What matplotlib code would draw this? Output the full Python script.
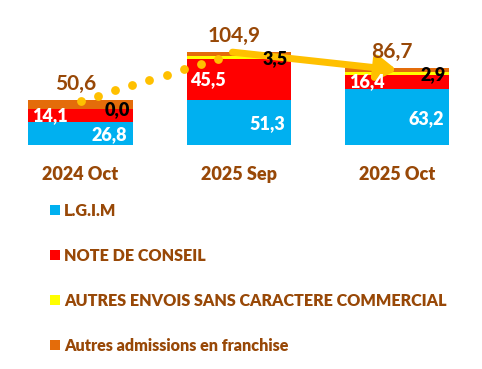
import numpy as np
import matplotlib.pyplot as plt
from matplotlib.patches import Patch

# données
categories = ['2024 Oct', '2025 Sep', '2025 Oct']
series_names = ['L.G.I.M', 'NOTE DE CONSEIL',
                'AUTRES ENVOIS SANS CARACTERE COMMERCIAL',
                'Autres admissions en franchise']
lgim = [26.8, 51.3, 63.2]
note = [14.1, 45.5, 16.4]
autres_envois = [0.0, 3.5, 2.9]
autres_adm = [9.7, 4.6, 4.2]
totals = [50.6, 104.9, 86.7]

colors = ['#00B0F0', '#FF0000', '#FFFF00', '#E46C0A']
brown = '#984807'
gold = '#FFC000'

plt.rcParams['font.family'] = ['Lato', 'DejaVu Sans']

fig = plt.figure(figsize=(4.82, 3.69), dpi=100)
ax = fig.add_axes([0, 0.6057, 1, 0.3015])

x = np.arange(len(categories))
w = 0.66
series = [lgim, note, autres_envois, autres_adm]
bottom = np.zeros(len(x))
bottoms = []
for vals, c in zip(series, colors):
    ax.bar(x, vals, w, bottom=bottom, color=c, zorder=2)
    bottoms.append(bottom.copy())
    bottom = bottom + np.array(vals)

def fmt(v):
    return f'{v:.1f}'.replace('.', ',')

for i in range(len(x)):
    # L.G.I.M : blanc, à droite
    ax.text(x[i] + w / 2 - 0.035, bottoms[0][i] + lgim[i] / 2 - 1, fmt(lgim[i]),
            ha='right', va='center', color='white', fontsize=13,
            fontweight='heavy', zorder=6)
    # note de conseil : blanc, à gauche
    ax.text(x[i] - w / 2 + 0.025, bottoms[1][i] + note[i] / 2, fmt(note[i]),
            ha='left', va='center', color='white', fontsize=13,
            fontweight='heavy', zorder=6)
    # autres envois : noir
    ax.text(x[i] + w / 2 - 0.02, bottoms[2][i] + autres_envois[i] / 2 - 1,
            fmt(autres_envois[i]), ha='right', va='center', color='black',
            fontsize=13, fontweight='heavy', zorder=6)
    # total
    ax.text(x[i] - 0.03, totals[i] + 18, fmt(totals[i]), ha='center',
            va='center', color=brown, fontsize=15, fontweight='bold',
            zorder=6)

# pointillés 2024 Oct -> 2025 Sep
t = np.linspace(0, 0.87, 9)
ax.scatter(x[0] + t, totals[0] + t * (totals[1] - totals[0]) - 0.5, s=40,
           color=gold, zorder=4, clip_on=False, linewidths=0)

# flèche 2025 Sep -> 2025 Oct
ax.annotate('', xy=(x[2] + 0.0, totals[2] - 2), xytext=(x[1] - 0.04, totals[1]),
            arrowprops=dict(arrowstyle='-|>,head_length=0.55,head_width=0.35',
                            lw=5, color=gold, shrinkA=0, shrinkB=0,
                            mutation_scale=20, capstyle='round'),
            zorder=5)

ax.set_xlim(-0.509, 2.537)
ax.set_ylim(0, 125)
ax.set_xticks(x)
ax.set_xticklabels(categories, fontsize=13, fontweight='heavy', color=brown)
ax.tick_params(axis='x', length=0, pad=15)
ax.set_yticks([])
for s in ax.spines.values():
    s.set_visible(False)
ax.patch.set_visible(False)

handles = [Patch(facecolor=c, edgecolor='none') for c in colors]
leg = fig.legend(handles, series_names, loc='upper left',
                 bbox_to_anchor=(0.09, 0.468), frameon=False,
                 prop={'size': 11.6, 'weight': 'heavy'}, labelcolor=brown,
                 handlelength=0.62, handleheight=0.62, handletextpad=0.25,
                 labelspacing=1.8, borderaxespad=0)

fig.savefig('out.png', dpi=100)
